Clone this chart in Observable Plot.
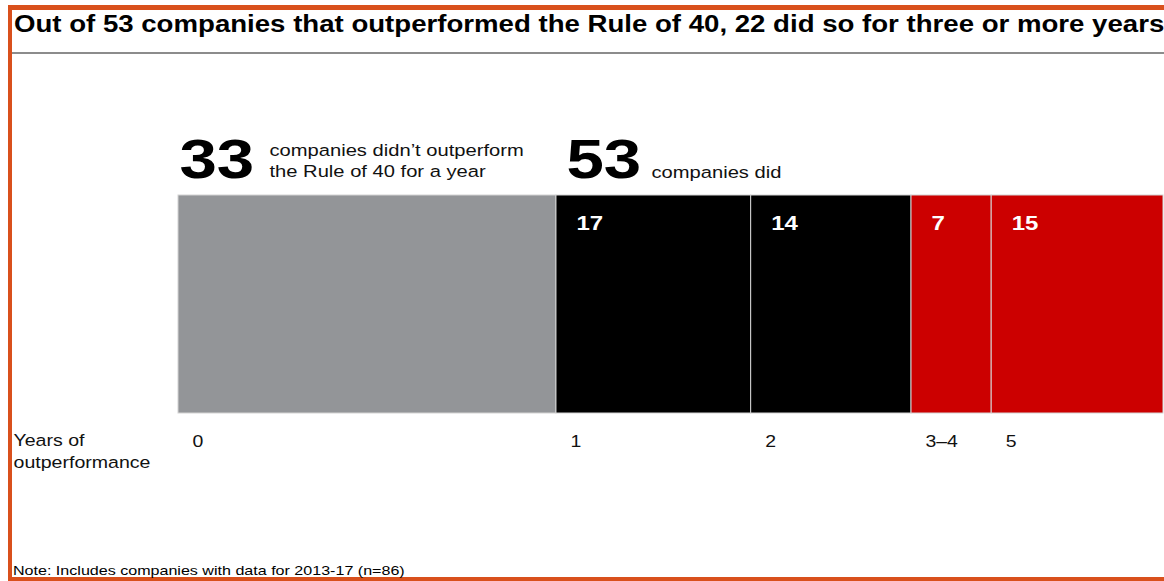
<!DOCTYPE html>
<html><head><meta charset="utf-8">
<script src="https://cdn.jsdelivr.net/npm/d3@7"></script>
<script src="https://cdn.jsdelivr.net/npm/@observablehq/plot@0.6"></script>
<style>
html,body{margin:0;padding:0;background:#fff;}
#page{position:relative;width:1164px;height:581px;overflow:hidden;font-family:"Liberation Sans",Arial,sans-serif;color:#000;}
.border{position:absolute;background:#d9501c;}
#title{position:absolute;left:14px;top:12.5px;font-size:23px;line-height:23px;font-weight:bold;white-space:nowrap;transform:scaleX(1.2);transform-origin:0 0;}
#rule{position:absolute;left:12px;top:52px;width:1152px;height:2px;background:#8c8c8c;}
#chart{position:absolute;left:0;top:100px;}
#note{position:absolute;left:13px;top:563.6px;font-size:13.4px;line-height:13.4px;white-space:nowrap;transform:scaleX(1.2);transform-origin:0 0;}
</style>
</head><body>
<div id="page">
  <div class="border" style="left:8px;top:5px;width:4px;height:576px;"></div>
  <div class="border" style="left:8px;top:5px;width:1156px;height:5px;"></div>
  <div class="border" style="left:8px;top:577px;width:1156px;height:4px;"></div>
  <div id="title"></div>
  <div id="rule"></div>
  <div id="chart"></div>
  <div id="note"></div>
</div>
<script>
const titleText = "Out of 53 companies that outperformed the Rule of 40, 22 did so for three or more years";
const noteText = "Note: Includes companies with data for 2013-17 (n=86)";
const categories = ["0", "1", "2", "3–4", "5"];
const counts = [33, 17, 14, 7, 15];
const groups = ["none", "did", "did", "did3", "did3"];
const groupNames = ["none", "did", "did3"];
const groupColors = ["#939598", "#000000", "#cc0000"];
const headlineTexts = ["companies didn’t outperform\nthe Rule of 40 for a year", "companies did"];
const axisTitle = "Years of\noutperformance";

document.getElementById("title").textContent = titleText;
document.getElementById("note").textContent = noteText;

const rows = categories.map((c, i) => ({category: c, count: counts[i], group: groups[i]}));
const total = d3.sum(counts);
const notCount = counts[0];
const didCount = total - notCount;
const headlines = [
  {x: 0, value: String(notCount), text: headlineTexts[0]},
  {x: notCount, value: String(didCount), text: headlineTexts[1]}
];

const plot = Plot.plot({
  width: 1164, height: 400,
  marginTop: 95, marginBottom: 87, marginLeft: 0, marginRight: 0,
  x: {domain: [0, total], range: [178, 1163], axis: null},
  color: {domain: groupNames, range: groupColors},
  style: {fontFamily: "Liberation Sans, Arial, sans-serif", color: "#000", background: "transparent"},
  marks: [
    Plot.barX(rows, {x: "count", fill: "group", stroke: "#d4d4d4", strokeWidth: 1}),
    Plot.text(rows, Plot.stackX1({x: "count", text: d => d.group === "none" ? "" : String(d.count),
      frameAnchor: "top", lineAnchor: "bottom", textAnchor: "start", dx: 20, dy: 34,
      fill: "white", fontWeight: "bold", fontSize: 20})),
    Plot.text(rows, Plot.stackX1({x: "count", text: "category",
      frameAnchor: "bottom", lineAnchor: "bottom", textAnchor: "start", dx: 14, dy: 33,
      fill: "#111", fontSize: 16.2})),
    Plot.text([axisTitle], {frameAnchor: "bottom-left", lineAnchor: "bottom", textAnchor: "start",
      dx: 13, dy: 54, fontSize: 16.3, lineHeight: 1.3, fill: "#111"}),
    Plot.text([headlines[0]], {x: "x", text: "value", frameAnchor: "top", lineAnchor: "bottom",
      textAnchor: "start", dx: 1, dy: -18, fontSize: 56, fontWeight: "bold"}),
    Plot.text([headlines[1]], {x: "x", text: "value", frameAnchor: "top", lineAnchor: "bottom",
      textAnchor: "start", dx: 10, dy: -18, fontSize: 56, fontWeight: "bold"}),
    Plot.text([headlines[0]], {x: "x", text: "text", frameAnchor: "top", lineAnchor: "bottom",
      textAnchor: "start", dx: 91, dy: -19, fontSize: 16.8, lineHeight: 1.2, fill: "#111"}),
    Plot.text([headlines[1]], {x: "x", text: "text", frameAnchor: "top", lineAnchor: "bottom",
      textAnchor: "start", dx: 95, dy: -18, fontSize: 16.8, fill: "#111"})
  ]
});
plot.querySelectorAll("text").forEach(t => {
  const tr = t.getAttribute("transform") || "";
  t.setAttribute("transform", tr + " scale(1.2,1)");
});
document.getElementById("chart").appendChild(plot);
</script>
</body></html>
